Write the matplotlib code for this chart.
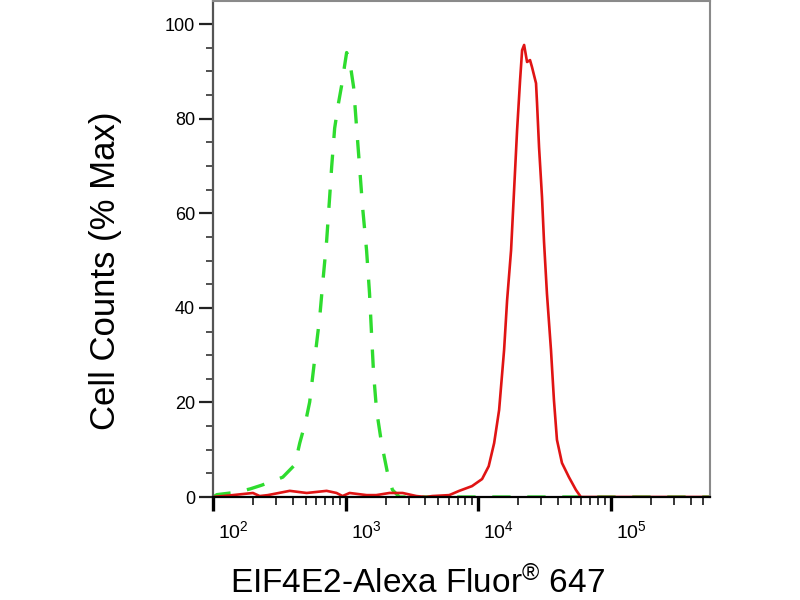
import matplotlib
matplotlib.use("Agg")
import matplotlib.pyplot as plt
import matplotlib.transforms as mtransforms
from matplotlib.ticker import MultipleLocator, LogLocator

plt.rcParams['font.family'] = ['Liberation Sans', 'DejaVu Sans']
plt.rcParams['mathtext.fontset'] = 'custom'
plt.rcParams['mathtext.rm'] = 'Liberation Sans'
plt.rcParams['mathtext.it'] = 'Liberation Sans:italic'
plt.rcParams['mathtext.bf'] = 'Liberation Sans:bold'

# 同型对照 (绿色虚线)
iso_x = [100, 107, 150, 190, 233, 290, 336, 414, 451, 500, 536, 584, 638, 672,
         720, 758, 785, 827, 880, 933, 980, 1018, 1072, 1149, 1210, 1275, 1343,
         1439, 1515, 1568, 1625, 1711, 1866, 2070, 2256, 2546, 10000, 560000]
iso_y = [0, 0.5, 1.0, 1.7, 2.5, 3.5, 4.2, 6.8, 11.4, 16, 20.1, 29, 38, 45.2,
         54.3, 63.4, 69.8, 78, 83, 87, 91, 94, 92.4, 86.7, 78.2, 69.8, 61.3,
         52.2, 43.1, 34.7, 26.2, 18.4, 11.4, 5.1, 1.5, 0, 0, 0]

# EIF4E2 样本 (红色实线)
eif_x = [100, 141, 200, 225, 259, 379, 509, 719, 855, 948, 1072, 1440, 1703,
         2140, 2690, 3420, 4050, 4500, 6050, 7195, 8980, 10700, 12000, 13190,
         14380, 15680, 16520, 17700, 18650, 19650, 20700, 21440, 22200, 23360,
         24600, 25470, 27300, 27780, 28770, 30290, 31360, 33000, 35390, 37260,
         39260, 42830, 48340, 54580, 59460, 64830, 100000, 560000]
eif_y = [0, 0.4, 0.85, 0.2, 0.4, 1.3, 0.85, 1.3, 0.85, 0.2, 0.85, 0.4, 0.4,
         0.85, 0.85, 0.2, 0, 0.2, 0.4, 1.3, 2.3, 3.8, 6.5, 11.4,
         18.4, 31.1, 41.6, 52.2, 64.9, 77.6, 88.2, 94.5, 95.6, 92.0,
         92.4, 90.9, 87.5, 83.3, 74.0, 63.4, 54.0, 43.0, 31.1, 20.5,
         12.1, 7.2, 4.2, 1.5, 0, 0, 0, 0]

fig = plt.figure(figsize=(8, 6), dpi=100)
ax = fig.add_axes([213 / 800, 103 / 600, 497 / 800, 496 / 600])

ax.plot(iso_x, iso_y, color='#2edc2e', lw=2.4, linestyle=(0, (5.5, 5.0)))
ax.plot(eif_x, eif_y, color='#e01414', lw=1.9)

ax.set_xscale('log')
ax.set_xlim(100, 560000)
ax.set_ylim(0, 104.9)

ax.xaxis.set_major_locator(LogLocator(base=10, numticks=10))
ax.xaxis.set_minor_locator(LogLocator(base=10, subs=range(2, 10), numticks=20))
ax.yaxis.set_major_locator(MultipleLocator(20))
ax.yaxis.set_minor_locator(MultipleLocator(5))

ax.tick_params(axis='x', which='major', direction='out', length=10, width=2.4,
               labelsize=14, pad=7, color='black')
ax.tick_params(axis='x', which='minor', direction='out', length=6, width=1.1,
               color='black')
ax.tick_params(axis='y', which='major', direction='out', length=10, width=1.6,
               labelsize=13, pad=3, color='#222222')
ax.tick_params(axis='y', which='minor', direction='out', length=5, width=1.1,
               color='#222222')

offset = mtransforms.ScaledTranslation(5 / 100, 0, fig.dpi_scale_trans)
for lab in ax.get_xticklabels():
    lab.set_horizontalalignment('left')
    lab.set_transform(lab.get_transform() + offset)

ax.spines['left'].set_color('#555555')
ax.spines['left'].set_linewidth(1.6)
ax.spines['bottom'].set_color('black')
ax.spines['bottom'].set_linewidth(1.6)
for s in ['top', 'right']:
    ax.spines[s].set_color('#8a8a8a')
    ax.spines[s].set_linewidth(1.5)

fig.text(106 / 800, 1 - 271 / 600, 'Cell Counts (% Max)', rotation=90,
         ha='center', va='center', fontsize=25)
fig.text(417 / 800, 1 - 593 / 600, 'EIF4E2-Alexa Fluor$^{\\mathrm{®}}$ 647',
         ha='center', va='baseline', fontsize=24)

fig.savefig('out.png', dpi=100)
